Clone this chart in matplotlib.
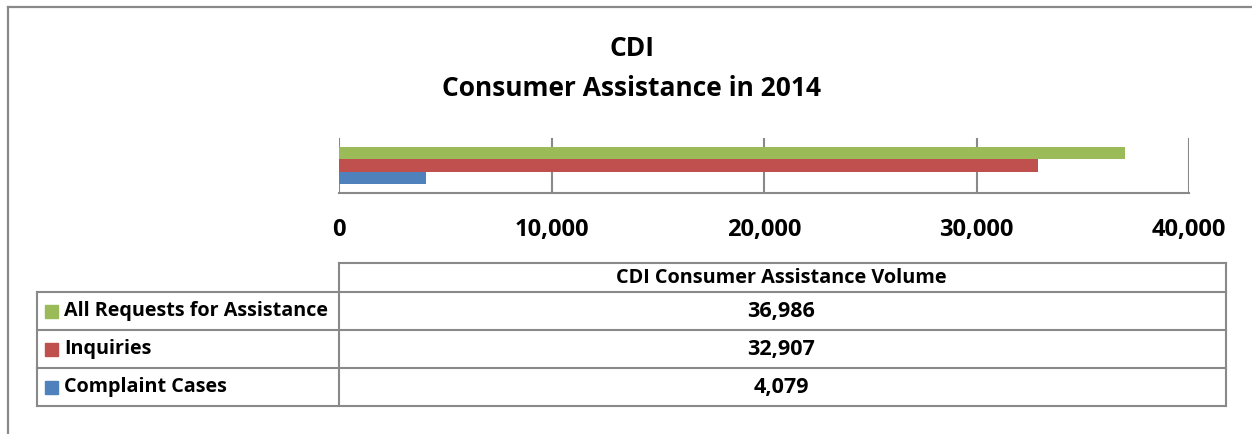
import matplotlib
matplotlib.use("Agg")
import matplotlib.pyplot as plt
from matplotlib.lines import Line2D
from matplotlib.patches import Rectangle

plt.rcParams['font.family'] = ['Open Sans', 'DejaVu Sans']

# data
series = ["Complaint Cases", "Inquiries", "All Requests for Assistance"]
values = [4079, 32907, 36986]
colors = ["#4f81bd", "#c0504d", "#9bbb59"]
xticks = [0, 10000, 20000, 30000, 40000]
table_header = "CDI Consumer Assistance Volume"

W, H = 1252, 434
fig = plt.figure(figsize=(W / 100, H / 100), dpi=100)


def fx(px):
    return px / W


def fy(py):
    return 1 - py / H


grey = "#898989"

# outer chart border (partially visible)
fig.add_artist(Line2D([fx(8), fx(8)], [fy(7), fy(434)], color=grey, lw=1.6))
fig.add_artist(Line2D([fx(8), fx(1252)], [fy(7), fy(7)], color=grey, lw=1.6))
fig.text(fx(36), fy(-14), "g", fontsize=15, family="Liberation Sans", va="baseline")

# title
fig.text(fx(632), fy(48), "CDI", ha="center", va="center", fontsize=19, fontweight="bold")
fig.text(fx(632), fy(88), "Consumer Assistance in 2014", ha="center", va="center",
         fontsize=19, fontweight="bold")

# bar axes
ax = fig.add_axes([fx(339), fy(193), fx(1189) - fx(339), (193 - 138) / H])
bar_h = 0.224
offsets = [-bar_h, 0, bar_h]
for name, v, c, off in zip(series, values, colors, offsets):
    ax.barh(off, v, height=bar_h, color=c, label=name, zorder=2)
ax.set_xlim(0, 40000)
ax.set_ylim(-0.5, 0.5)
ax.set_xticks(xticks)
ax.set_xticklabels([f"{t:,}" for t in xticks], fontsize=17, fontweight="bold")
ax.tick_params(axis="x", length=0, pad=18)
ax.set_yticks([])
ax.grid(axis="x", color=grey, lw=1.5, zorder=0)
ax.set_axisbelow(True)
for s in ["top", "left", "right"]:
    ax.spines[s].set_visible(False)
ax.spines["bottom"].set_color(grey)
ax.spines["bottom"].set_linewidth(1.5)
ax.patch.set_alpha(0)

# data table
rows_y = [292, 330, 368, 406]
table_lines = [
    ([339, 1226], [263, 263]),
    ([339, 339], [263, 406]),
    ([1226, 1226], [263, 406]),
    ([37, 37], [292, 406]),
]
for y in rows_y:
    table_lines.append(([37, 1226], [y, y]))
for xs, ys in table_lines:
    fig.add_artist(Line2D([fx(x) for x in xs], [fy(y) for y in ys], color=grey, lw=1.5))

fig.text(fx(781), fy(278), table_header, ha="center", va="center",
         fontsize=14.3, fontweight="bold")

# table rows: top row is the last series
for i, idx in enumerate(reversed(range(len(series)))):
    yc = (rows_y[i] + rows_y[i + 1]) / 2
    fig.add_artist(Rectangle((fx(45), fy(yc + 6.5)), fx(13), 13 / H, color=colors[idx]))
    fig.text(fx(64), fy(yc), series[idx], ha="left", va="center",
             fontsize=14.2, fontweight="bold")
    fig.text(fx(781), fy(yc), f"{values[idx]:,}", ha="center", va="center",
             fontsize=15.5, fontweight="bold")

fig.savefig("out.png", dpi=100)
